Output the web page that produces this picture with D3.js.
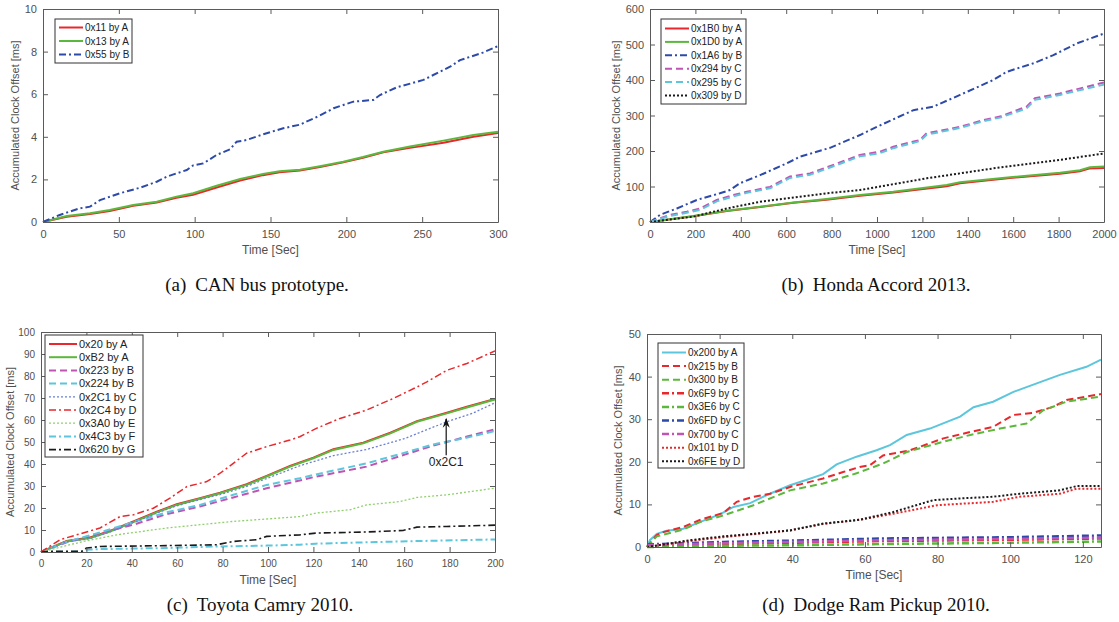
<!DOCTYPE html>
<html>
<head>
<meta charset="utf-8">
<script src="https://cdn.jsdelivr.net/npm/d3@7/dist/d3.min.js"></script>
<style>
  body { margin: 0; background: #fff; }
  text { font-family: "Liberation Sans", Arial, sans-serif; }
</style>
</head>
<body>
<div id="chart"></div>
<script>
// ---- data: [time, offset] ----
// (a) CAN bus prototype
const a_0x11 = [[0,0],[15.6,0.25],[31,0.38],[44,0.52],[59.5,0.76],[75,0.92],[88,1.14],[99,1.28],[114.5,1.62],[130,1.95],[145,2.2],[156,2.33],[169.4,2.42],[182.6,2.58],[198,2.8],[211,3.02],[224.4,3.27],[242,3.48],[264,3.72],[283.8,4.0],[300,4.18]];
const a_0x13 = [[0,0],[15.6,0.28],[31,0.41],[44,0.56],[59.5,0.8],[75,0.95],[88,1.19],[99,1.35],[114.5,1.7],[130,2.02],[145,2.25],[156,2.38],[169.4,2.45],[182.6,2.62],[198,2.83],[211,3.05],[224.4,3.3],[242,3.54],[264,3.82],[283.8,4.08],[300,4.24]];
const a_0x55 = [[0,0],[11,0.33],[24,0.64],[31,0.72],[37.6,1.03],[50.8,1.35],[64,1.61],[75,1.89],[81.6,2.13],[94.8,2.44],[99,2.66],[105.7,2.75],[114.5,3.15],[123.3,3.41],[127.7,3.77],[134.3,3.85],[145.3,4.12],[158.4,4.4],[169.4,4.57],[182.6,5.0],[191.6,5.34],[204.6,5.65],[217.8,5.73],[222.2,5.96],[233.2,6.32],[250.8,6.67],[268.4,7.29],[275,7.6],[290,7.95],[300,8.26]];

// (b) Honda Accord 2013
const b_0x1B0 = [[0,0],[191,16],[338,31],[485,42],[632,54],[778,63],[925,74],[1072,83],[1307,101],[1366,109],[1586,124],[1806,136],[1894,143],[1938,151],[2000,152]];
const b_0x1D0 = [[0,0],[191,17],[338,32],[485,43],[632,55],[778,65],[925,76],[1072,85],[1307,104],[1366,112],[1586,126],[1806,139],[1894,146],[1938,154],[2000,156]];
const b_0x1A6 = [[0,0],[44,20],[118,38],[206,62],[308,81],[352,90],[396,109],[485,132],[602,165],[661,184],[793,209],[925,245],[999,268],[1160,315],[1248,325],[1366,358],[1512,400],[1571,423],[1689,447],[1777,470],[1880,503],[2000,531]];
const b_0x294 = [[0,0],[88,20],[162,29],[220,38],[294,62],[367,76],[426,85],[529,99],[617,128],[705,137],[808,161],[925,189],[1013,198],[1072,212],[1189,231],[1219,250],[1366,268],[1468,287],[1542,297],[1659,325],[1696,349],[1806,362],[1924,381],[2000,393]];
const b_0x295 = [[0,0],[88,17],[162,26],[220,34],[294,58],[367,72],[426,82],[529,95],[617,124],[705,133],[808,157],[925,185],[1013,194],[1072,208],[1189,228],[1219,246],[1366,265],[1468,284],[1542,294],[1659,320],[1696,344],[1806,358],[1924,376],[2000,387]];
const b_0x309 = [[0,0],[191,15],[338,38],[485,57],[778,81],[925,90],[1219,123],[1512,151],[1806,175],[2000,193]];

// (c) Toyota Camry 2010
const c_0x20 = [[0,0],[11.3,5.0],[21.6,6.6],[30.4,9.6],[40.7,13.9],[51,18.3],[59.8,21.7],[70,24.5],[78.9,27],[90.6,30.8],[99.4,34.6],[109.7,39.1],[120,42.9],[128.8,46.7],[142,49.7],[153.9,54.2],[165.6,59.5],[178.8,63.3],[187.6,66],[200,69.6]];
const c_0xB2 = [[0,0],[11.3,4.8],[21.6,6.3],[30.4,9.3],[40.7,13.6],[51,18],[59.8,21.4],[70,24.2],[78.9,26.7],[90.6,30.5],[99.4,34.3],[109.7,38.8],[120,42.6],[128.8,46.4],[142,49.4],[153.9,53.9],[165.6,59.2],[178.8,63],[187.6,65.7],[200,69.3]];
const c_0x223 = [[0,0],[11.3,4.4],[26,8.6],[40.7,12.4],[55.3,17.2],[70,20.7],[84.7,24.8],[99.4,29],[114,32.5],[120,34],[143.4,38.8],[158,43.5],[172.8,48.4],[186,52],[200,55.8]];
const c_0x224 = [[0,0],[11.3,4.6],[26,8.9],[40.7,13.6],[55.3,18],[70,21.4],[84.7,26],[99.4,30.5],[114,33.5],[120,35],[143.4,40.3],[158,44.5],[172.8,48.9],[186,51.6],[200,55]];
const c_0x2C1 = [[0,0],[11.3,4.7],[21.6,6.1],[30.4,9.1],[40.7,13.4],[51,17.7],[59.8,21],[70,23.8],[78.9,26.1],[90.6,29.8],[99.4,33.4],[114,39.2],[128.8,43.8],[143.4,46.6],[160,51.5],[178.8,59.2],[190,63],[200,67.8]];
const c_0x2C4 = [[0,0],[8.4,5.6],[15.7,7.8],[26,10.9],[34.8,16.1],[40.7,16.9],[49.5,19.9],[56.8,24.5],[64.2,29.7],[73,32],[78.9,35.8],[84.7,40.3],[90.6,44.9],[99.4,47.9],[109.7,50.9],[114,52.4],[121.3,56.2],[131.7,60.7],[143.4,64.5],[155.2,69.8],[165.6,75],[170,77.3],[178.8,82.6],[187.6,85.7],[200,91.4]];
const c_0x3A0 = [[0,0],[18.6,4.8],[33.4,7.8],[55.3,10.9],[70,12.4],[84.7,13.9],[99.4,15],[114,16.1],[121.3,17.7],[136,19.2],[143.4,21.4],[158,22.9],[165.6,24.8],[178.8,26],[200,29]];
const c_0x4C3 = [[0,0],[18,0.2],[20,1],[25,1.3],[55.3,1.8],[77.4,2.5],[99.4,2.9],[114,3.3],[121,3.8],[158,4.8],[200,5.7]];
const c_0x620 = [[0,0],[5,0.3],[18,0.3],[20,1.8],[26,2.5],[55.3,2.9],[77.4,3.3],[84.7,4.8],[94.9,5.6],[99.4,7.1],[114,7.8],[121,8.6],[143.4,9.1],[159.5,9.8],[165.6,11.3],[178.8,11.6],[200,12.2]];

// (d) Dodge Ram Pickup 2010
const d_0x200 = [[0,0],[0.8,1.6],[2.7,3.1],[5.4,3.8],[10,4.3],[14.7,5.9],[20.2,7.7],[23.8,9.4],[28.4,10.3],[33,12.2],[39.4,14.5],[44,15.8],[48.5,17.1],[52.2,19.4],[57.7,21.2],[63.2,22.7],[66.9,23.9],[71.5,26.3],[77.9,27.8],[86.2,30.6],[89.9,32.8],[95.3,34.1],[100.9,36.4],[107.3,38.4],[113.7,40.4],[121,42.3],[125,44]];
const d_0x215 = [[0,0],[2.7,2.8],[4.5,3.5],[10,4.7],[14.7,6.4],[21,8],[24.7,10.6],[29.3,11.8],[33.9,12.5],[39.4,14.1],[48.5,16.1],[54,17.6],[58.6,18.8],[61.4,19.2],[65,21.5],[72.4,22.7],[81.6,25.5],[89,27],[95.3,28.2],[100.9,31],[106.4,31.5],[111.8,32.9],[115.5,34.5],[125,35.9]];
const d_0x300 = [[0,0],[2.7,2.5],[10,4.1],[14.7,5.9],[21,7.4],[29.3,9.8],[39.4,13.3],[48.5,14.9],[57.7,17.3],[65,19.6],[71.5,22.3],[81.6,24.7],[89,26.3],[97.2,27.8],[104.5,29],[109.1,32.1],[115.5,34.1],[125,35.3]];
const d_0x6F9 = [[0,0.2],[21,0.7],[40,1.0],[65,1.4],[100,1.7],[125,2.0]];
const d_0x3E6 = [[0,0],[21,0.3],[40,0.4],[65,0.7],[100,1.0],[125,1.3]];
const d_0x6FD = [[0,0.6],[21,1.2],[40,1.5],[65,2.0],[100,2.3],[125,2.7]];
const d_0x700 = [[0,0.4],[21,0.9],[40,1.2],[65,1.6],[100,1.9],[125,2.2]];
const d_0x101 = [[0,0],[11.8,1.4],[21,2.3],[29.3,3.0],[39.4,3.9],[48.5,5.4],[58.6,6.4],[67.8,7.8],[79.8,9.8],[95.3,10.6],[102.6,11.8],[113.7,12.5],[118.3,13.7],[125,13.7]];
const d_0x6FE = [[0,0],[11.8,1.6],[21,2.5],[29.3,3.1],[39.4,3.9],[48.5,5.5],[58.6,6.4],[67.8,8.2],[78.8,11],[86.2,11.4],[95.3,11.8],[102.6,12.5],[113.7,13.3],[118.3,14.3],[125,14.3]];

// tick values
const aXTicks = [0,50,100,150,200,250,300], aYTicks = [0,2,4,6,8,10];
const bXTicks = d3.range(0, 2001, 200), bYTicks = [0,100,200,300,400,500,600];
const cXTicks = d3.range(0, 201, 20), cYTicks = d3.range(0, 101, 10);
const dXTicks = [0,20,40,60,80,100,120], dYTicks = [0,10,20,30,40,50];

// ---- styles ----
const col = {red:'#e8282c', green:'#5cb83c', blue:'#2d4aa8', magenta:'#c054b4', cyan:'#5cc6dc', black:'#1a1a1a', lblue:'#6b80d2', lgreen:'#8fd06c'};
const dash = {solid:null, dash:'7,4', dashdot:'7,3,2,3', dot:'2,2'};

const svg = d3.select('#chart').append('svg')
  .attr('width', 1119).attr('height', 622)
  .style('background', '#fff');

function drawPanel(p) {
  let x = d3.scaleLinear().domain(p.xDomain).range([p.left, p.right]);
  let y = d3.scaleLinear().domain(p.yDomain).range([p.bottom, p.top]);
  let g = svg.append('g');

  // series
  let line = d3.line().x(d => x(d[0])).y(d => y(d[1]));
  p.series.forEach(s => {
    g.append('path').datum(s.data)
      .attr('d', line)
      .attr('fill', 'none')
      .attr('stroke', col[s.color])
      .attr('stroke-width', s.width || 2)
      .attr('stroke-dasharray', dash[s.style]);
  });

  // box and ticks, MATLAB style (ticks inside, all sides)
  let axisCol = '#5a5a5a';
  let tl = 5;
  let fmt = d3.format('d');
  g.append('g').attr('transform', 'translate(0,' + p.bottom + ')')
    .call(d3.axisBottom(x).tickValues(p.xTicks).tickFormat(fmt).tickSizeInner(-tl).tickSizeOuter(0).tickPadding(8));
  g.append('g').attr('transform', 'translate(0,' + p.top + ')')
    .call(d3.axisTop(x).tickValues(p.xTicks).tickSizeInner(-tl).tickSizeOuter(0).tickFormat(''));
  g.append('g').attr('transform', 'translate(' + p.left + ',0)')
    .call(d3.axisLeft(y).tickValues(p.yTicks).tickFormat(fmt).tickSizeInner(-tl).tickSizeOuter(0).tickPadding(6));
  g.append('g').attr('transform', 'translate(' + p.right + ',0)')
    .call(d3.axisRight(y).tickValues(p.yTicks).tickSizeInner(-tl).tickSizeOuter(0).tickFormat(''));
  g.selectAll('.domain').attr('stroke', axisCol);
  g.selectAll('.tick line').attr('stroke', axisCol);
  g.selectAll('.tick text')
    .attr('fill', '#505050')
    .style('font-family', '"Liberation Sans", Arial, sans-serif')
    .style('font-size', p.tickFont + 'px');

  // axis labels
  g.append('text')
    .attr('x', (p.left + p.right) / 2).attr('y', p.bottom + 32)
    .attr('text-anchor', 'middle')
    .attr('fill', '#505050').style('font-size', '12px')
    .text('Time [Sec]');
  g.append('text')
    .attr('transform', 'translate(' + p.ylabX + ',' + ((p.top + p.bottom) / 2) + ') rotate(-90)')
    .attr('text-anchor', 'middle')
    .attr('fill', '#505050').style('font-size', '11px')
    .text('Accumulated Clock Offset [ms]');

  // legend
  let L = p.legend;
  g.append('rect')
    .attr('x', L.x).attr('y', L.y).attr('width', L.w).attr('height', L.h)
    .attr('fill', '#fff').attr('stroke', '#333').attr('stroke-width', 1);
  p.series.forEach((s, i) => {
    let yy = L.y + L.first + i * L.step;
    g.append('line')
      .attr('x1', L.x + 4).attr('x2', L.x + 4 + L.sample)
      .attr('y1', yy).attr('y2', yy)
      .attr('stroke', col[s.color])
      .attr('stroke-width', s.width || 2)
      .attr('stroke-dasharray', dash[s.style]);
    g.append('text')
      .attr('x', L.x + 6 + L.sample).attr('y', yy)
      .attr('dy', '0.35em')
      .attr('fill', '#222').style('font-size', L.font + 'px')
      .text(s.name);
  });

  // caption
  let cap = svg.append('text')
    .attr('x', p.capX).attr('y', p.capY)
    .attr('text-anchor', 'middle')
    .style('font-family', '"Liberation Serif", "Times New Roman", serif')
    .style('font-size', '19px')
    .attr('fill', '#111');
  cap.append('tspan').text(p.capTag);
  cap.append('tspan').attr('dx', 9).text(p.caption);

  return {x: x, y: y, g: g};
}

drawPanel({
  left: 43, right: 498, top: 9, bottom: 222,
  xDomain: [0, 300], yDomain: [0, 10], xTicks: aXTicks, yTicks: aYTicks, tickFont: 11,
  ylabX: 19,
  series: [
    {name: '0x11 by A', data: a_0x11, color: 'red', style: 'solid'},
    {name: '0x13 by A', data: a_0x13, color: 'green', style: 'solid'},
    {name: '0x55 by B', data: a_0x55, color: 'blue', style: 'dashdot'}
  ],
  legend: {x: 55, y: 19, w: 77, h: 44, first: 8.5, step: 13.5, sample: 24, font: 10},
  capTag: '(a)', caption: 'CAN bus prototype.', capX: 257, capY: 291
});

drawPanel({
  left: 650, right: 1104, top: 9, bottom: 222,
  xDomain: [0, 2000], yDomain: [0, 600], xTicks: bXTicks, yTicks: bYTicks, tickFont: 11,
  ylabX: 620,
  series: [
    {name: '0x1B0 by A', data: b_0x1B0, color: 'red', style: 'solid'},
    {name: '0x1D0 by A', data: b_0x1D0, color: 'green', style: 'solid'},
    {name: '0x1A6 by B', data: b_0x1A6, color: 'blue', style: 'dashdot'},
    {name: '0x294 by C', data: b_0x294, color: 'magenta', style: 'dash'},
    {name: '0x295 by C', data: b_0x295, color: 'cyan', style: 'dash'},
    {name: '0x309 by D', data: b_0x309, color: 'black', style: 'dot'}
  ],
  legend: {x: 661, y: 19, w: 85, h: 85, first: 9.5, step: 13.4, sample: 24, font: 10},
  capTag: '(b)', caption: 'Honda Accord 2013.', capX: 876, capY: 291
});

let pc = drawPanel({
  left: 41, right: 495, top: 332, bottom: 552,
  xDomain: [0, 200], yDomain: [0, 100], xTicks: cXTicks, yTicks: cYTicks, tickFont: 10,
  ylabX: 14,
  series: [
    {name: '0x20 by A', data: c_0x20, color: 'red', style: 'solid'},
    {name: '0xB2 by A', data: c_0xB2, color: 'green', style: 'solid'},
    {name: '0x223 by B', data: c_0x223, color: 'magenta', style: 'dash'},
    {name: '0x224 by B', data: c_0x224, color: 'cyan', style: 'dash'},
    {name: '0x2C1 by C', data: c_0x2C1, color: 'lblue', style: 'dot', width: 1.3},
    {name: '0x2C4 by D', data: c_0x2C4, color: 'red', style: 'dashdot', width: 1.5},
    {name: '0x3A0 by E', data: c_0x3A0, color: 'lgreen', style: 'dot', width: 1.3},
    {name: '0x4C3 by F', data: c_0x4C3, color: 'cyan', style: 'dashdot'},
    {name: '0x620 by G', data: c_0x620, color: 'black', style: 'dashdot', width: 1.6}
  ],
  legend: {x: 45, y: 335, w: 98, h: 122, first: 9, step: 13.2, sample: 28, font: 11},
  capTag: '(c)', caption: 'Toyota Camry 2010.', capX: 260, capY: 611
});

// annotation arrow in (c)
pc.g.append('line')
  .attr('x1', pc.x(178.5)).attr('x2', pc.x(178.5))
  .attr('y1', pc.y(44)).attr('y2', pc.y(60.5))
  .attr('stroke', '#111').attr('stroke-width', 1.2);
pc.g.append('path')
  .attr('d', d3.line()([[pc.x(178.5) - 3.5, pc.y(56.5)], [pc.x(178.5), pc.y(61)], [pc.x(178.5) + 3.5, pc.y(56.5)], [pc.x(178.5), pc.y(58)]]) + 'Z')
  .attr('fill', '#111');
pc.g.append('text')
  .attr('x', pc.x(178.5)).attr('y', pc.y(41))
  .attr('text-anchor', 'middle').attr('dy', '0.35em')
  .attr('fill', '#222').style('font-size', '12px')
  .text('0x2C1');

drawPanel({
  left: 647, right: 1101, top: 334, bottom: 547,
  xDomain: [0, 125], yDomain: [0, 50], xTicks: dXTicks, yTicks: dYTicks, tickFont: 11,
  ylabX: 622,
  series: [
    {name: '0x200 by A', data: d_0x200, color: 'cyan', style: 'solid'},
    {name: '0x215 by B', data: d_0x215, color: 'red', style: 'dash'},
    {name: '0x300 by B', data: d_0x300, color: 'green', style: 'dash'},
    {name: '0x6F9 by C', data: d_0x6F9, color: 'red', style: 'dashdot', width: 2.5},
    {name: '0x3E6 by C', data: d_0x3E6, color: 'green', style: 'dashdot', width: 2.5},
    {name: '0x6FD by C', data: d_0x6FD, color: 'blue', style: 'dashdot', width: 2.5},
    {name: '0x700 by C', data: d_0x700, color: 'magenta', style: 'dashdot', width: 2.5},
    {name: '0x101 by D', data: d_0x101, color: 'red', style: 'dot'},
    {name: '0x6FE by D', data: d_0x6FE, color: 'black', style: 'dot'}
  ],
  legend: {x: 658, y: 343, w: 86, h: 125, first: 9.5, step: 13.6, sample: 24, font: 10},
  capTag: '(d)', caption: 'Dodge Ram Pickup 2010.', capX: 876, capY: 611
});
</script>
</body>
</html>
